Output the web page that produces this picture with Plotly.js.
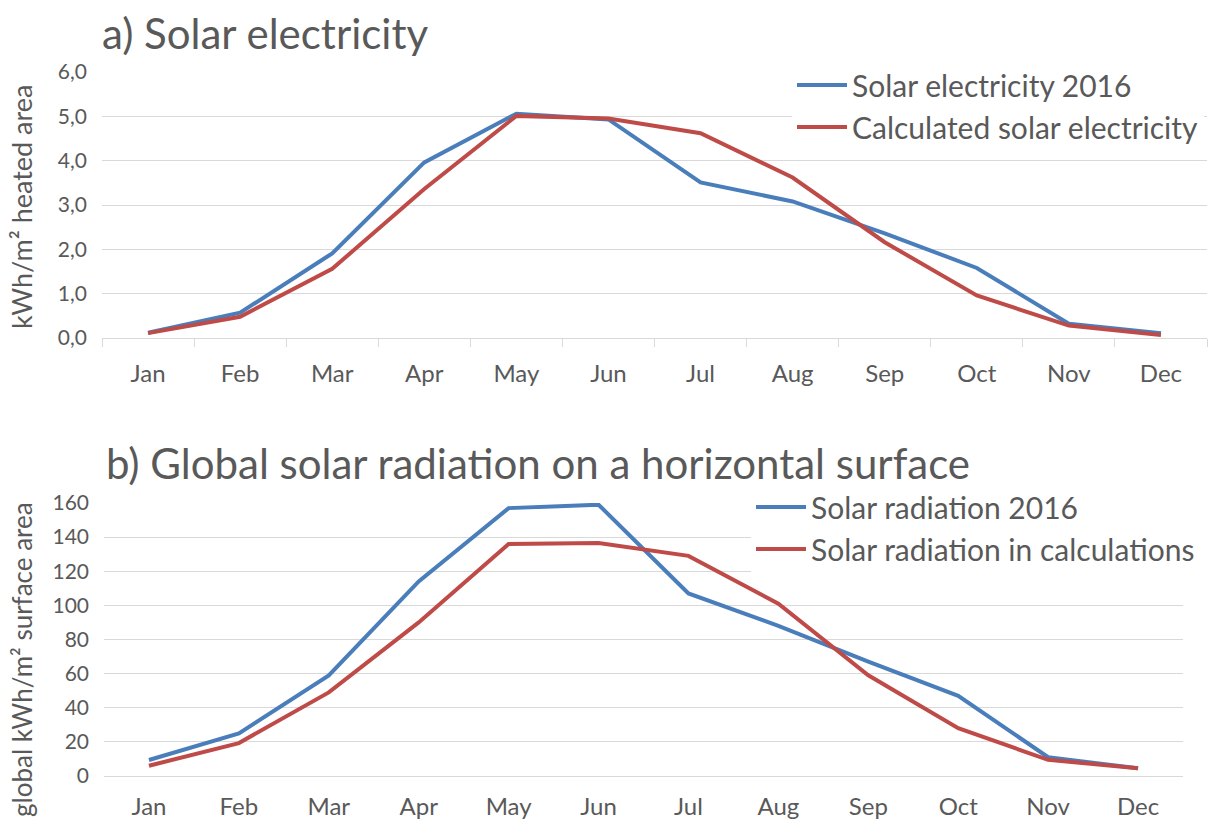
<!DOCTYPE html>
<html>
<head>
<meta charset="utf-8">
<script src="https://cdn.plot.ly/plotly-3.0.1.min.js"></script>
<style>html,body{margin:0;padding:0;background:#fff;}#chart{width:1222px;height:825px;}</style>
</head>
<body>
<div id="chart"></div>
<script>
const months = ["Jan","Feb","Mar","Apr","May","Jun","Jul","Aug","Sep","Oct","Nov","Dec"];
const elec2016 = [0.12,0.57,1.91,3.96,5.06,4.93,3.51,3.08,2.36,1.58,0.32,0.11];
const elecCalc = [0.11,0.48,1.56,3.36,5.01,4.95,4.62,3.62,2.16,0.96,0.28,0.07];
const rad2016 = [9.4,25,59,114,157,159,107,88,67,47,11,4.5];
const radCalc = [6,19.3,49,90,136,136.5,129,101,59,28,9.5,4.5];
const legendNamesA = ["Solar electricity 2016","Calculated solar electricity"];
const legendNamesB = ["Solar radiation 2016","Solar radiation in calculations"];
const titleA = "a) Solar electricity";
const titleB = "b) Global solar radiation on a horizontal surface";
const yTitleA = "kWh/m² heated area";
const yTitleB = "global kWh/m² surface area";

const BLUE = "#4a7ebb", RED = "#be4b48", GRID = "#d9d9d9", TXT = "#595959";
const FONT = "Lato, 'Open Sans', sans-serif";

const traces = [
  {x: months, y: elec2016, name: legendNamesA[0], type: "scatter", mode: "lines", line: {color: BLUE, width: 4}, xaxis: "x", yaxis: "y", legend: "legend", legendgroup: "a1"},
  {x: months, y: elecCalc, name: legendNamesA[1], type: "scatter", mode: "lines", line: {color: RED, width: 4}, xaxis: "x", yaxis: "y", legend: "legend", legendgroup: "a2"},
  {x: months, y: rad2016, name: legendNamesB[0], type: "scatter", mode: "lines", line: {color: BLUE, width: 4}, xaxis: "x2", yaxis: "y2", legend: "legend2", legendgroup: "b1"},
  {x: months, y: radCalc, name: legendNamesB[1], type: "scatter", mode: "lines", line: {color: RED, width: 4}, xaxis: "x2", yaxis: "y2", legend: "legend2", legendgroup: "b2"}
];

const W = 1222, H = 825;
const layout = {
  width: W, height: H,
  margin: {l: 0, r: 0, t: 0, b: 0},
  paper_bgcolor: "#fff", plot_bgcolor: "#fff",
  separators: ",.",
  font: {family: FONT, color: TXT},
  showlegend: true,
  xaxis: {
    domain: [102/W, 1207/W], anchor: "y", type: "category", range: [-0.5, 11.5],
    showgrid: false, showline: true, linecolor: GRID, linewidth: 1,
    ticks: "outside", tickson: "boundaries", ticklen: 8, tickcolor: GRID,
    ticklabelstandoff: 14,
    tickfont: {size: 24, color: TXT, family: FONT}, fixedrange: true
  },
  yaxis: {
    domain: [(H-338)/H, (H-72)/H], anchor: "x",
    range: [0, 6], dtick: 1, tickformat: ".1f",
    showgrid: true, gridcolor: GRID, gridwidth: 1, zeroline: false,
    showline: false, ticks: "", ticklabelstandoff: 14,
    tickfont: {size: 21, color: TXT, family: FONT}
  },
  xaxis2: {
    domain: [104/W, 1183/W], anchor: "y2", type: "category", range: [-0.5, 11.5],
    showgrid: false, showline: false, ticks: "", ticklabelstandoff: 14,
    tickfont: {size: 24, color: TXT, family: FONT}
  },
  yaxis2: {
    domain: [(H-776)/H, (H-503)/H], anchor: "x2",
    range: [0, 160], dtick: 20,
    showgrid: true, gridcolor: GRID, gridwidth: 1,
    zeroline: true, zerolinecolor: GRID, zerolinewidth: 1,
    showline: false, ticks: "", ticklabelstandoff: 14,
    tickfont: {size: 21, color: TXT, family: FONT}
  },
  legend: {
    x: 792/W, xanchor: "left", y: (H-59)/H, yanchor: "top",
    bgcolor: "#fff", borderwidth: 0, font: {size: 30, color: TXT, family: FONT},
    traceorder: "grouped", tracegroupgap: 0, itemwidth: 50
  },
  legend2: {
    x: 751/W, xanchor: "left", y: (H-481)/H, yanchor: "top",
    bgcolor: "#fff", borderwidth: 0, font: {size: 30, color: TXT, family: FONT},
    traceorder: "grouped", tracegroupgap: 0, itemwidth: 50
  },
  annotations: [
    {text: titleA, xref: "paper", yref: "paper", x: 100/W, y: (H-33)/H, xanchor: "left", yanchor: "middle", showarrow: false, font: {size: 42, color: TXT, family: FONT}},
    {text: titleB, xref: "paper", yref: "paper", x: 104/W, y: (H-463)/H, xanchor: "left", yanchor: "middle", showarrow: false, font: {size: 42, color: TXT, family: FONT}},
    {text: yTitleA, xref: "paper", yref: "paper", x: 22/W, y: (H-207)/H, xanchor: "center", yanchor: "middle", textangle: -90, showarrow: false, font: {size: 27, color: TXT, family: FONT}},
    {text: yTitleB, xref: "paper", yref: "paper", x: 22/W, y: (H-660)/H, xanchor: "center", yanchor: "middle", textangle: -90, showarrow: false, font: {size: 26, color: TXT, family: FONT}}
  ]
};

Plotly.newPlot("chart", traces, layout, {displayModeBar: false, staticPlot: true});
</script>
</body>
</html>
